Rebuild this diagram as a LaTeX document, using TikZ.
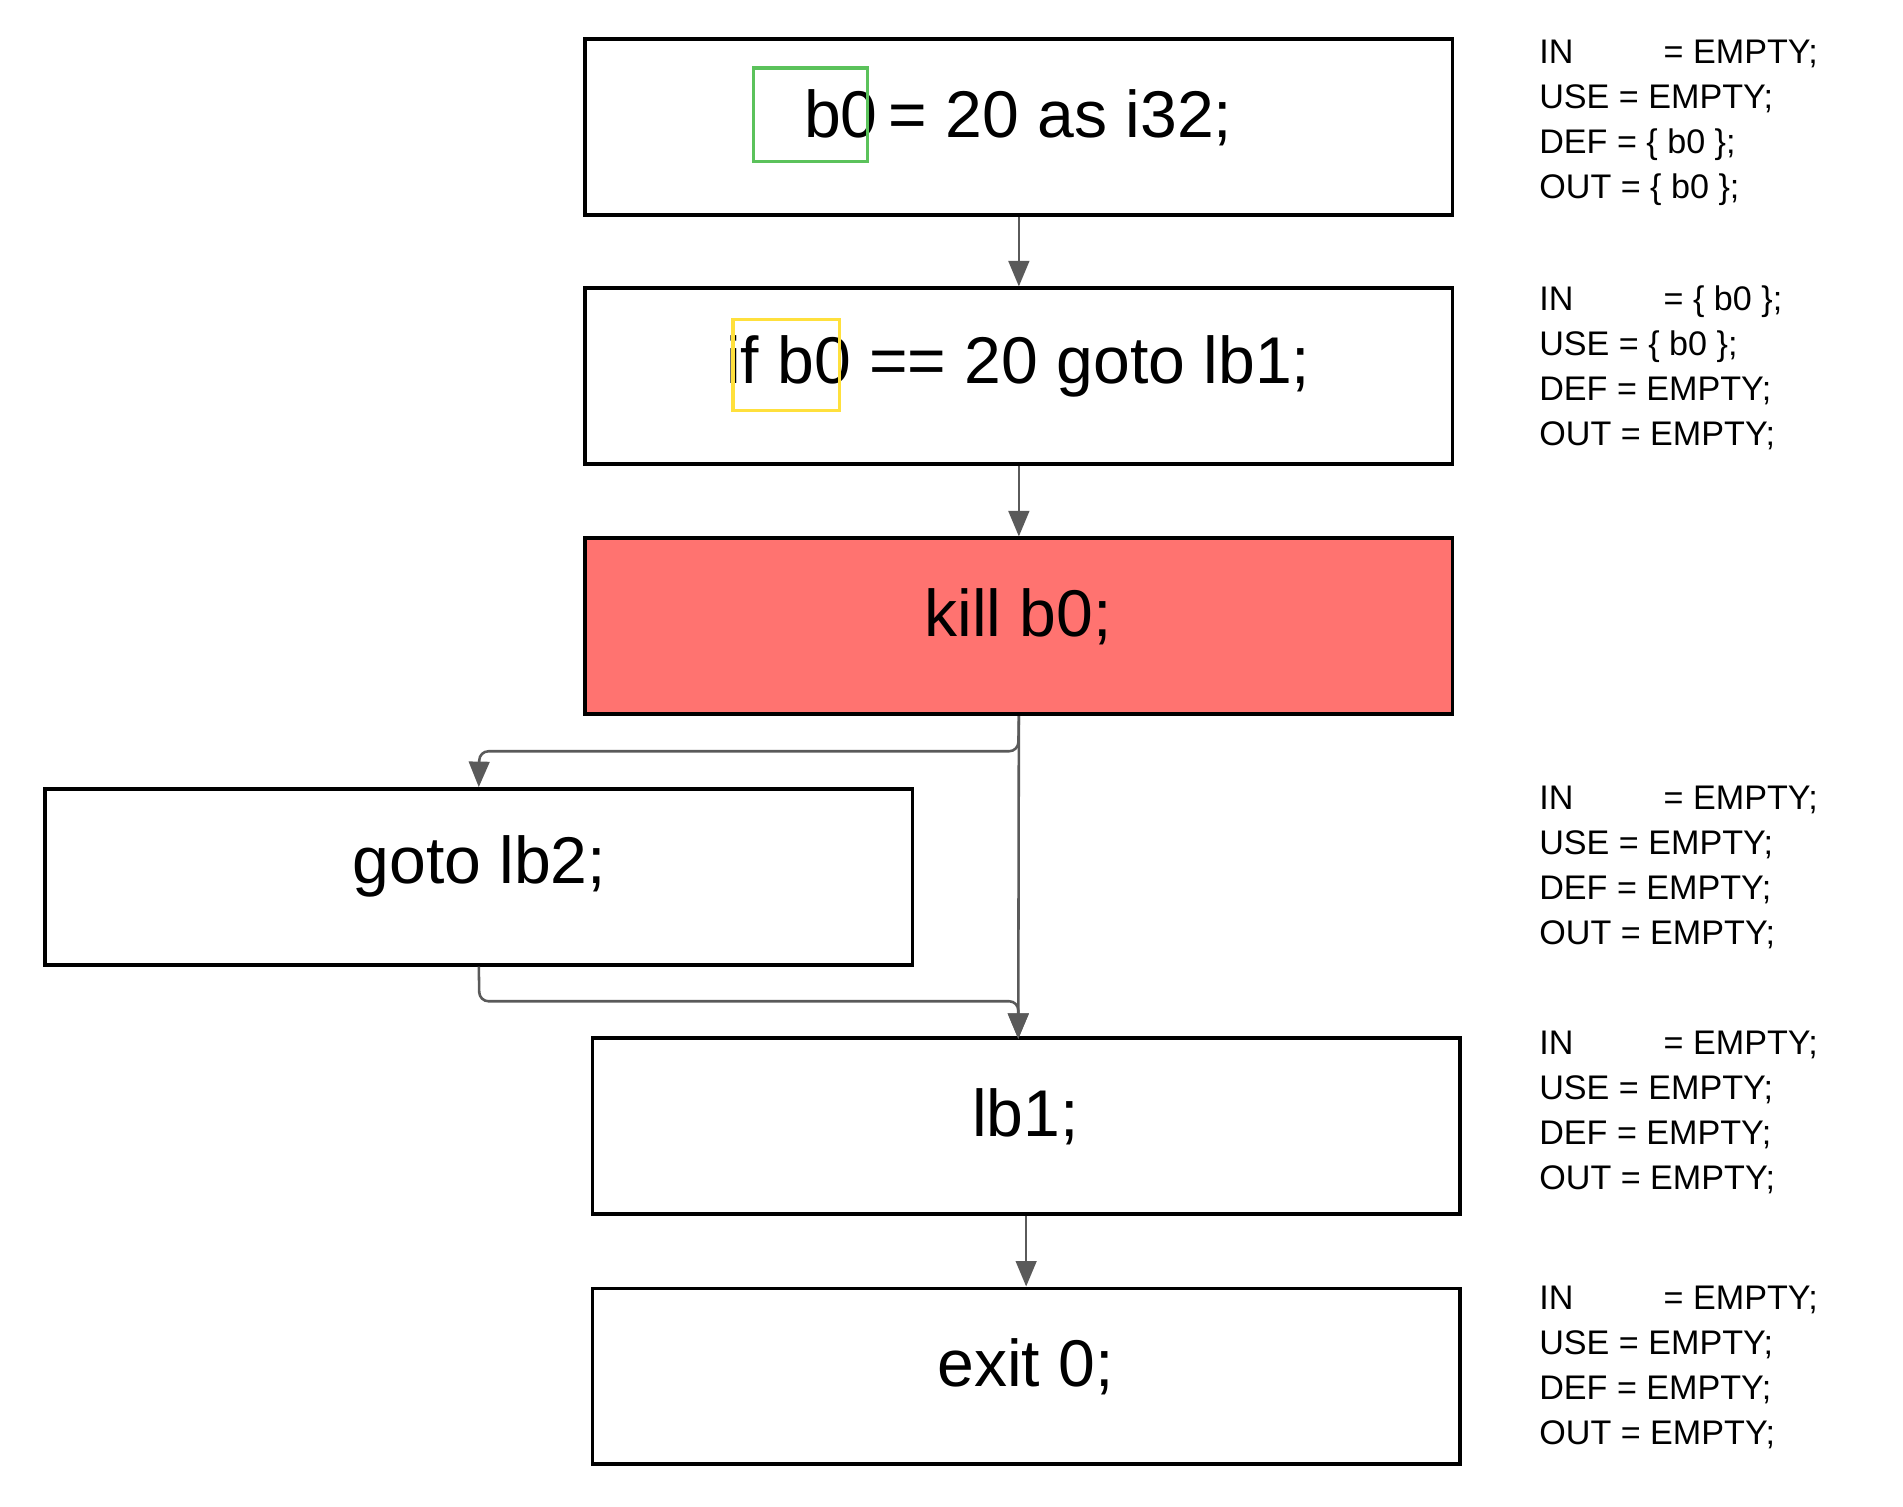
\documentclass[tikz,border=0pt]{standalone}
\usepackage{fontspec}
\setmainfont{Liberation Sans}
\usetikzlibrary{arrows.meta}
\definecolor{redf}{HTML}{FF7370}
\definecolor{grn}{HTML}{5BC25B}
\definecolor{ylw}{HTML}{FFE03C}
\definecolor{ar}{HTML}{5A5A5A}
\begin{document}
\begin{tikzpicture}[x=0.02cm,y=-0.02cm,
  blk/.style={draw=black,line width=1.7pt,minimum width=14.3cm,minimum height=2.9cm,inner sep=0pt,
    font=\fontsize{31}{36}\selectfont},
  arr/.style={draw=ar,line width=1.2pt,-{Triangle[length=0.42cm,width=0.34cm]},rounded corners=0.15cm},
  side/.style={anchor=north west,align=left,inner sep=0pt,font=\fontsize{16}{21.1}\selectfont}]
\useasboundingbox (0,0) rectangle (1568,1241);
\newcommand{\inl}{\makebox[2.05cm][l]{IN}}
\node[blk] (b1) at (839.5,104.5) {};
\node[font=\fontsize{31}{36}\selectfont] (t1) at (839,97) {b0\,= 20 as i32;};
\node[blk] (b2) at (839.5,310) {};
\node[font=\fontsize{31}{36}\selectfont] (t2) at (839,302) {if b0 == 20 goto lb1;};
\node[blk,fill=redf] (b3) at (839.5,516) {};
\node[font=\fontsize{31}{36}\selectfont] (t3) at (839,508) {kill b0;};
\node[blk] (b4) at (394.5,722.5) {};
\node[font=\fontsize{31}{36}\selectfont] (t4) at (395,714) {goto lb2;};
\node[blk] (b5) at (845.5,928) {};
\node[font=\fontsize{31}{36}\selectfont] (t5) at (845,920) {lb1;};
\node[blk] (b6) at (845.5,1134) {};
\node[font=\fontsize{31}{36}\selectfont] (t6) at (845,1126) {exit 0;};
\draw[grn,line width=1.5pt] (621,56) rectangle (715,133);
\draw[ylw,line width=1.5pt] (604,263) rectangle (692,338);
\coordinate (m) at (839,856);
\draw[arr] (b1.south) -- (b2.north);
\draw[arr] (b2.south) -- (b3.north);
\draw[arr] (b3.south) -- (839,619) -- (395,619) -- (b4.north);
\draw[arr] (b3.south) -- (m);
\draw[arr] (b4.south) -- (395,825) -- (839,825) -- (m);
\draw[arr] (b5.south) -- (b6.north);
\node[side] (s1) at (1268,33) {\inl= EMPTY;\\USE = EMPTY;\\DEF = \{ b0 \};\\OUT = \{ b0 \};};
\node[side] (s2) at (1268,235) {\inl= \{ b0 \};\\USE = \{ b0 \};\\DEF = EMPTY;\\OUT = EMPTY;};
\node[side] (s3) at (1268,647) {\inl= EMPTY;\\USE = EMPTY;\\DEF = EMPTY;\\OUT = EMPTY;};
\node[side] (s4) at (1268,849) {\inl= EMPTY;\\USE = EMPTY;\\DEF = EMPTY;\\OUT = EMPTY;};
\node[side] (s5) at (1268,1059) {\inl= EMPTY;\\USE = EMPTY;\\DEF = EMPTY;\\OUT = EMPTY;};
\end{tikzpicture}
\end{document}
